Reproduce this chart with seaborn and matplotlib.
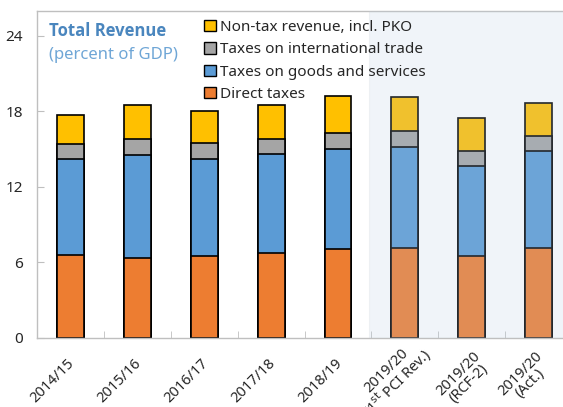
import seaborn as sns
import matplotlib.pyplot as plt
import matplotlib.patches as mpatches
import matplotlib.transforms as mtransforms
import pandas as pd
import numpy as np

# data (percent of GDP)
years = ["2014/15", "2015/16", "2016/17", "2017/18", "2018/19",
         "2019/20\n(1$^{\\rm st}$ PCI Rev.)", "2019/20\n(RCF-2)", "2019/20\n(Act.)"]
direct_taxes = [6.56, 6.34, 6.50, 6.77, 7.04, 7.17, 6.48, 7.17]
goods_services = [7.65, 8.16, 7.68, 7.81, 7.94, 7.99, 7.17, 7.68]
intl_trade = [1.17, 1.28, 1.30, 1.25, 1.32, 1.28, 1.17, 1.22]
non_tax = [2.33, 2.73, 2.52, 2.68, 2.93, 2.68, 2.65, 2.60]

series_names = ["Direct taxes", "Taxes on goods and services",
                "Taxes on international trade", "Non-tax revenue, incl. PKO"]
colors = ["#ED7D31", "#5B9BD5", "#A5A5A5", "#FFC000"]

sns.set_style("white")
plt.rcParams['font.family'] = ['Noto Sans', 'DejaVu Sans']

df = pd.DataFrame({"year": years,
                   series_names[0]: direct_taxes,
                   series_names[1]: goods_services,
                   series_names[2]: intl_trade,
                   series_names[3]: non_tax})
cum = df[series_names].cumsum(axis=1)

fig = plt.figure(figsize=(5.63, 4.07), dpi=100)
ax = fig.add_axes([0.0652, 0.170, 0.935, 0.8035])

# stacked bars: draw the cumulative totals from the top layer down
for name, col in reversed(list(zip(series_names, colors))):
    sns.barplot(x=df["year"], y=cum[name], color=col, width=0.4,
                edgecolor="black", linewidth=1.2, saturation=1, ax=ax, zorder=2)

# light shaded area for the 2019/20 columns
ax.axvspan(4.47, 8.0, facecolor="#B4CAE2", alpha=0.2, edgecolor="#C8CCD2",
           linewidth=0.8, zorder=3)

ax.set_xlim(-0.51, 7.37)
ax.set_ylim(0, 26)
ax.set_yticks([0, 6, 12, 18, 24])
ax.set_xlabel("")
ax.set_ylabel("")

for side in ["left", "bottom", "top"]:
    ax.spines[side].set_color("#BFBFBF")
    ax.spines[side].set_linewidth(1.0)
ax.spines["right"].set_visible(False)

ax.tick_params(axis="y", direction="in", length=5, color="#BFBFBF",
               labelsize=11, pad=10, left=True)
ax.tick_params(axis="x", length=0, labelsize=10.5, pad=0)
ax.set_xticks(range(len(years)))
ax.set_xticklabels(years, rotation=45, ha="center", va="center",
                   rotation_mode="anchor", multialignment="center",
                   linespacing=0.85)
# small inward ticks between categories
ax.set_xticks(np.arange(0.5, 7.0, 1.0), minor=True)
ax.tick_params(axis="x", which="minor", direction="in", length=5,
               color="#BFBFBF", bottom=True)

# label centre offsets from tick / axis line, in pixels (right, down)
label_offsets = [(-18, 43)] * 5 + [(-12, 40), (-8, 41), (-13, 41)]
for lab, (dx, dy) in zip(ax.get_xticklabels(), label_offsets):
    off = mtransforms.ScaledTranslation(dx / 100, -dy / 100, fig.dpi_scale_trans)
    lab.set_transform(lab.get_transform() + off)

# legend in the top order of the stack
handles = [mpatches.Patch(facecolor=c, edgecolor="black", linewidth=1.0, label=n)
           for n, c in zip(reversed(series_names), reversed(colors))]
leg = fig.legend(handles=handles, loc="upper left", bbox_to_anchor=(0.352, 0.966),
                 frameon=False, fontsize=11, handlelength=0.75, handleheight=0.75,
                 handletextpad=0.3, labelspacing=0.48, borderaxespad=0)
leg.set_zorder(10)

fig.text(0.087, 0.947, "Total Revenue", fontsize=12, fontweight="bold",
         family=["Open Sans", "DejaVu Sans"], color="#4A86BE", va="top", ha="left")
fig.text(0.087, 0.885, "(percent of GDP)", fontsize=12,
         color="#6FA6D6", va="top", ha="left")

fig.savefig("out.png", dpi=100)
